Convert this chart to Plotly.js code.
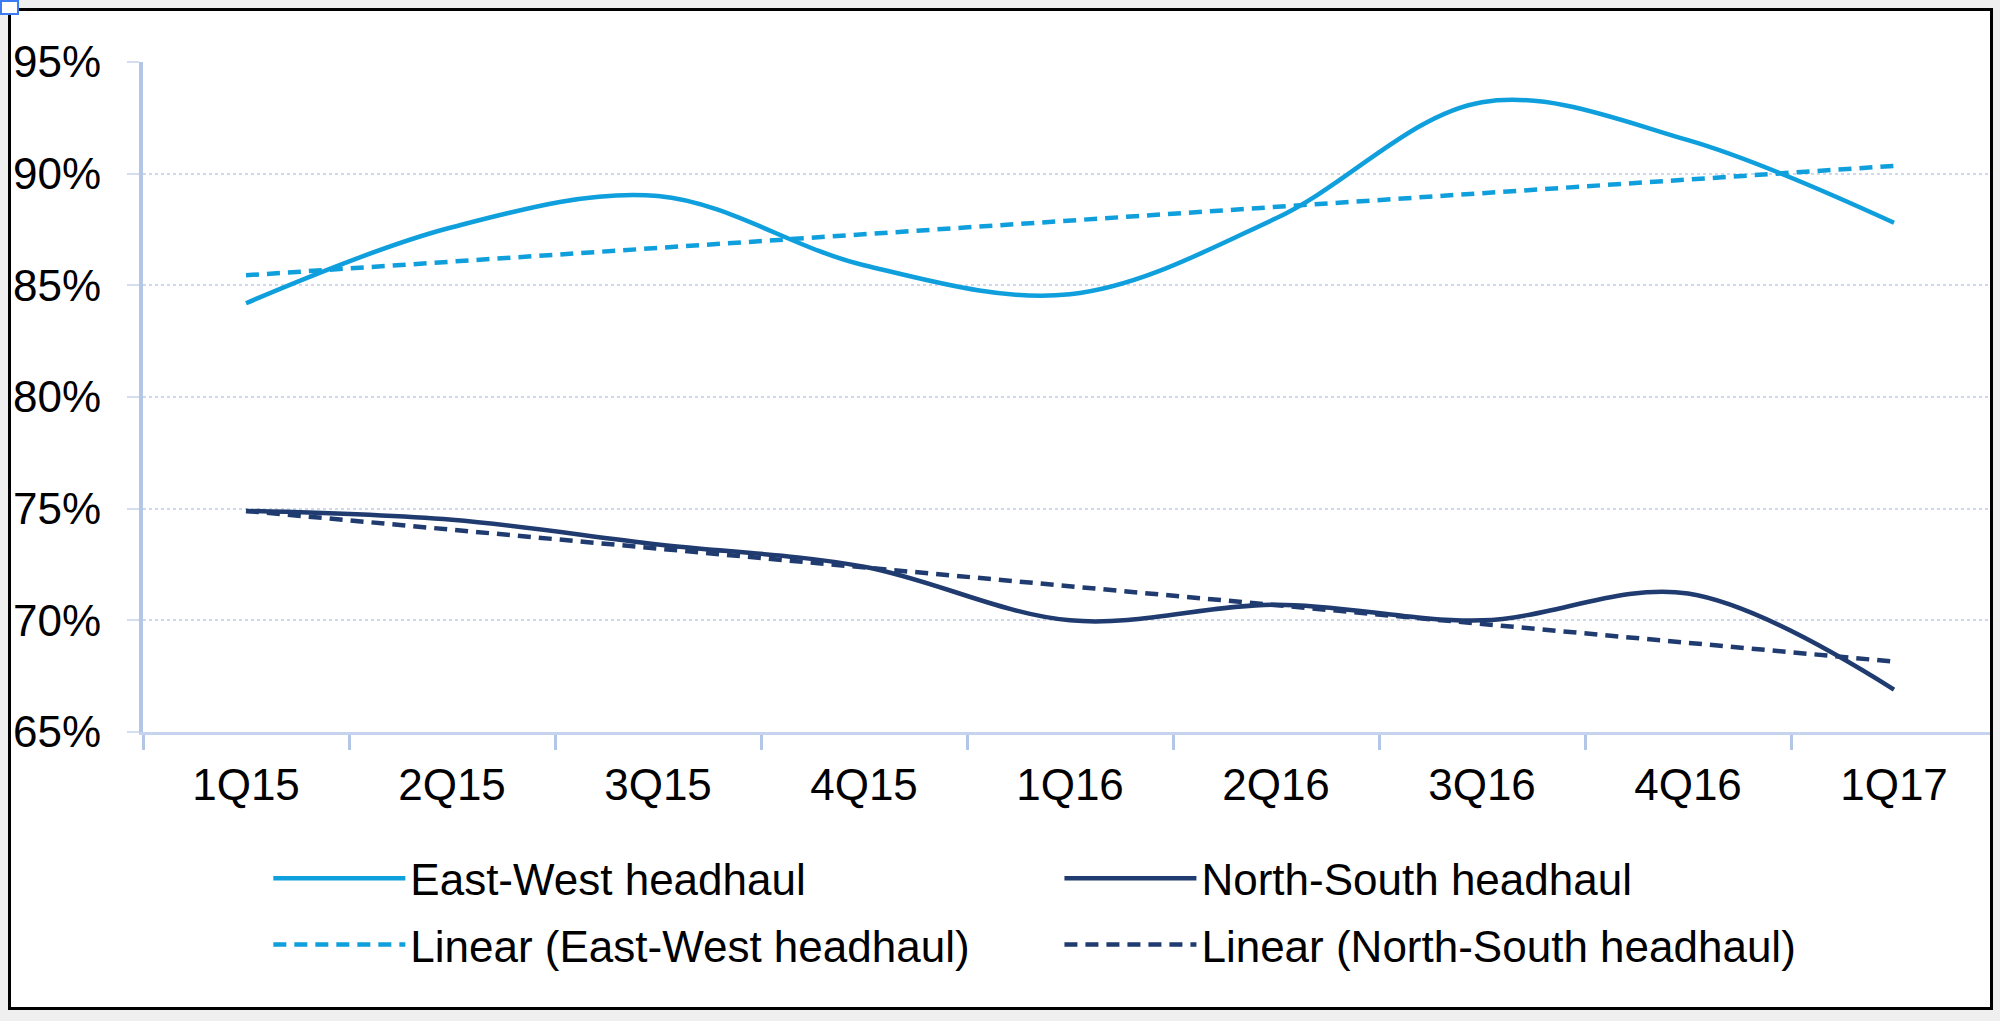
<!DOCTYPE html>
<html>
<head>
<meta charset="utf-8">
<script src="https://cdn.plot.ly/plotly-3.0.1.min.js"></script>
<style>
  html, body { margin: 0; padding: 0; width: 2000px; height: 1021px; background: #efefef; overflow: hidden; }
  #frame { position: absolute; left: 8px; top: 8px; width: 1979px; height: 996px; border: 3px solid #000; background: #fff; overflow: hidden; }
  #chart { width: 1995px; height: 996px; }
  #handle { position: absolute; left: 0; top: 0; width: 15px; height: 11px; border: 2px solid #3b7cf5; background: #fff; }
</style>
</head>
<body>
<div id="frame"><div id="chart"></div></div>
<div id="handle"></div>
<script>
// Categories (quarters)
const quarters = ['1Q15', '2Q15', '3Q15', '4Q15', '1Q16', '2Q16', '3Q16', '4Q16', '1Q17'];
// Series values (%)
const eastWest   = [84.2, 87.6, 89.0, 85.9, 84.6, 88.0, 93.2, 91.5, 87.8];
const northSouth = [74.9, 74.5, 73.4, 72.4, 70.0, 70.7, 70.0, 71.2, 66.9];
// Linear trendlines (endpoints)
const trendX = ['1Q15', '1Q17'];
const trendEastWest   = [85.45, 90.35];
const trendNorthSouth = [74.9, 68.15];
// Y ticks
const yTicks = [65, 70, 75, 80, 85, 90, 95];
const yTickText = ['65%', '70%', '75%', '80%', '85%', '90%', '95%'];

const EW_COLOR = '#0f9fdc';
const NS_COLOR = '#1f3b6f';
const FONT = 'Liberation Sans, Arial, sans-serif';

const traces = [
  { x: quarters, y: eastWest, name: 'East-West headhaul', type: 'scatter', mode: 'lines',
    line: { color: EW_COLOR, width: 4.5, shape: 'spline', smoothing: 1 }, legend: 'legend', legendgroup: 'a' },
  { x: trendX, y: trendEastWest, name: 'Linear (East-West headhaul)', type: 'scatter', mode: 'lines',
    line: { color: EW_COLOR, width: 4.5, dash: '13px,8px' }, legend: 'legend', legendgroup: 'b' },
  { x: quarters, y: northSouth, name: 'North-South headhaul', type: 'scatter', mode: 'lines',
    line: { color: NS_COLOR, width: 4.5, shape: 'spline', smoothing: 1 }, legend: 'legend2', legendgroup: 'c' },
  { x: trendX, y: trendNorthSouth, name: 'Linear (North-South headhaul)', type: 'scatter', mode: 'lines',
    line: { color: NS_COLOR, width: 4.5, dash: '13px,8px' }, legend: 'legend2', legendgroup: 'd' }
];

const legendCommon = {
  orientation: 'v', xanchor: 'left', yanchor: 'top', y: -0.166,
  font: { family: FONT, size: 44, color: '#000' },
  bgcolor: 'rgba(0,0,0,0)', borderwidth: 0, itemwidth: 132,
  traceorder: 'grouped', tracegroupgap: 6
};

const layout = {
  width: 1995, height: 996,
  margin: { l: 132, r: 9, t: 51, b: 275 },
  paper_bgcolor: '#fff', plot_bgcolor: '#fff',
  font: { family: FONT, size: 44, color: '#000' },
  showlegend: true,
  xaxis: {
    type: 'category', categoryorder: 'array', categoryarray: quarters,
    range: [-0.5, 8.5], tickson: 'boundaries',
    ticks: 'outside', ticklen: 15, tickwidth: 3, tickcolor: '#b4c6e7',
    showline: true, linecolor: '#c5d3ee', linewidth: 3,
    showgrid: false, zeroline: false,
    tickfont: { family: FONT, size: 44, color: '#000' }, ticklabelstandoff: 12
  },
  yaxis: {
    range: [65, 95], tickmode: 'array', tickvals: yTicks, ticktext: yTickText,
    ticks: 'outside', ticklen: 12, tickwidth: 2, tickcolor: '#d5deef',
    showline: true, linecolor: '#b4c6e7', linewidth: 4,
    showgrid: true, gridcolor: '#cfd9ee', gridwidth: 2, griddash: 'dot',
    zeroline: false,
    tickfont: { family: FONT, size: 44, color: '#000' }, ticklabelstandoff: 17
  },
  legend: Object.assign({}, legendCommon, { x: 0.0676 }),
  legend2: Object.assign({}, legendCommon, { x: 0.4943 })
};

Plotly.newPlot('chart', traces, layout, { staticPlot: true, displayModeBar: false });
</script>
</body>
</html>
